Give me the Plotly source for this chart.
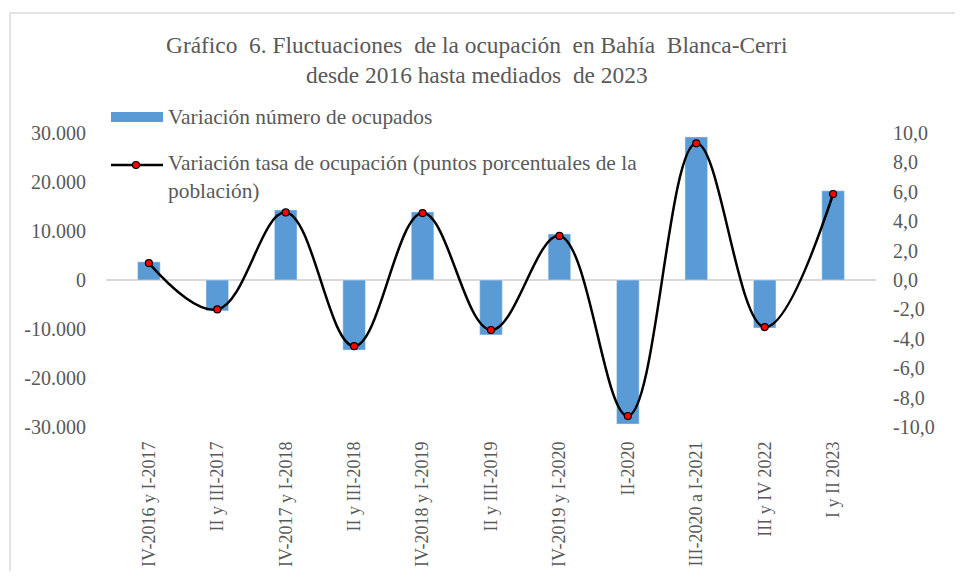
import plotly.graph_objects as go

categories = ["IV-2016 y I-2017", "II y III-2017", "IV-2017 y I-2018", "II y III-2018",
              "IV-2018 y I-2019", "II y III-2019", "IV-2019 y I-2020", "II-2020",
              "III-2020 a I-2021", "III y IV 2022", "I y II 2023"]
ocupados = [3700, -6300, 14300, -14300, 13900, -11200, 9400, -29400, 29200, -9800, 18200]
tasa = [1.15, -2.0, 4.6, -4.5, 4.55, -3.4, 3.0, -9.25, 9.3, -3.2, 5.85]

left_tickvals = [-30000, -20000, -10000, 0, 10000, 20000, 30000]
left_ticktext = ["-30.000", "-20.000", "-10.000", "0", "10.000", "20.000", "30.000"]
right_tickvals = [-10, -8, -6, -4, -2, 0, 2, 4, 6, 8, 10]
right_ticktext = ["-10,0", "-8,0", "-6,0", "-4,0", "-2,0", "0,0", "2,0", "4,0", "6,0", "8,0", "10,0"]

title_lines = ["Gráfico\u00a0 6. Fluctuaciones\u00a0 de la ocupación\u00a0 en Bahía\u00a0 Blanca-Cerri",
               "desde 2016 hasta mediados\u00a0 de 2023"]
legend_bar = "Variación número de ocupados"
legend_line = "Variación tasa de ocupación (puntos porcentuales de la<br>población)"

FONT = "Liberation Serif, Times New Roman, serif"
GREY = "#595959"
# page has an 8px body margin: work in reference pixel coords, shifted by OFF
OFF = 8
W, H = 963 - 2 * OFF, 579 - 2 * OFF
L, R, T, B = 106 - OFF, 963 - 876 - OFF, 133 - OFF, 579 - 427 - OFF
PW, PH = W - L - R, H - T - B

def px(x):
    return (x - OFF - L) / PW

def py(y):
    return 1 + (T - (y - OFF)) / PH

fig = go.Figure()
fig.add_trace(go.Bar(x=categories, y=ocupados, marker_color="#5b9bd5", width=0.33,
                     name=legend_bar, yaxis="y"))
fig.add_trace(go.Scatter(x=categories, y=tasa, mode="lines+markers", yaxis="y2",
                         name=legend_line,
                         line=dict(color="black", width=2.5, shape="spline", smoothing=1.1),
                         marker=dict(color="#ff0000", size=7, line=dict(color="black", width=1.2))))

shapes = [
    dict(type="rect", xref="paper", yref="paper", x0=px(10), x1=px(990), y0=py(600), y1=py(13),
         line=dict(color="#d9d9d9", width=1.5), fillcolor="rgba(0,0,0,0)", layer="below"),
    dict(type="rect", xref="paper", yref="paper", x0=px(111), x1=px(163), y0=py(122), y1=py(112),
         line=dict(width=0), fillcolor="#5b9bd5"),
    dict(type="line", xref="paper", yref="paper", x0=px(111), x1=px(163), y0=py(165), y1=py(165),
         line=dict(color="black", width=2.5)),
    dict(type="circle", xref="paper", yref="paper", x0=px(132.5), x1=px(139.5), y0=py(168.5), y1=py(161.5),
         line=dict(color="black", width=1.2), fillcolor="#ff0000"),
]

annotations = [
    dict(text="<br>".join(title_lines), x=px(477), y=py(60), xref="paper", yref="paper",
         showarrow=False, xanchor="center", yanchor="middle",
         font=dict(family=FONT, size=23.4, color=GREY)),
    dict(text=legend_bar, x=px(166), y=py(117), xref="paper", yref="paper",
         showarrow=False, xanchor="left", yanchor="middle", align="left",
         font=dict(family=FONT, size=21.4, color=GREY)),
    dict(text=legend_line, x=px(166), y=py(177), xref="paper", yref="paper",
         showarrow=False, xanchor="left", yanchor="middle", align="left",
         font=dict(family=FONT, size=21.4, color=GREY)),
]

fig.update_layout(
    width=W, height=H,
    margin=dict(l=L, r=R, t=T, b=B, autoexpand=False),
    paper_bgcolor="white", plot_bgcolor="white",
    showlegend=False,
    shapes=shapes, annotations=annotations,
    xaxis=dict(type="category", tickangle=-90, showgrid=False, showline=False, ticks="",
               tickfont=dict(family=FONT, size=18, color=GREY), ticklabelstandoff=10),
    yaxis=dict(range=[-30000, 30000], tickvals=left_tickvals, ticktext=left_ticktext,
               showgrid=False, zeroline=True, zerolinecolor="#d9d9d9", zerolinewidth=1.5,
               showline=False, ticks="", ticklabelstandoff=19,
               tickfont=dict(family=FONT, size=20, color=GREY)),
    yaxis2=dict(range=[-10, 10], tickvals=right_tickvals, ticktext=right_ticktext,
                overlaying="y", side="right", showgrid=False, zeroline=False,
                showline=False, ticks="", ticklabelstandoff=16,
                tickfont=dict(family=FONT, size=20, color=GREY)),
)

fig.write_html("out.html")
